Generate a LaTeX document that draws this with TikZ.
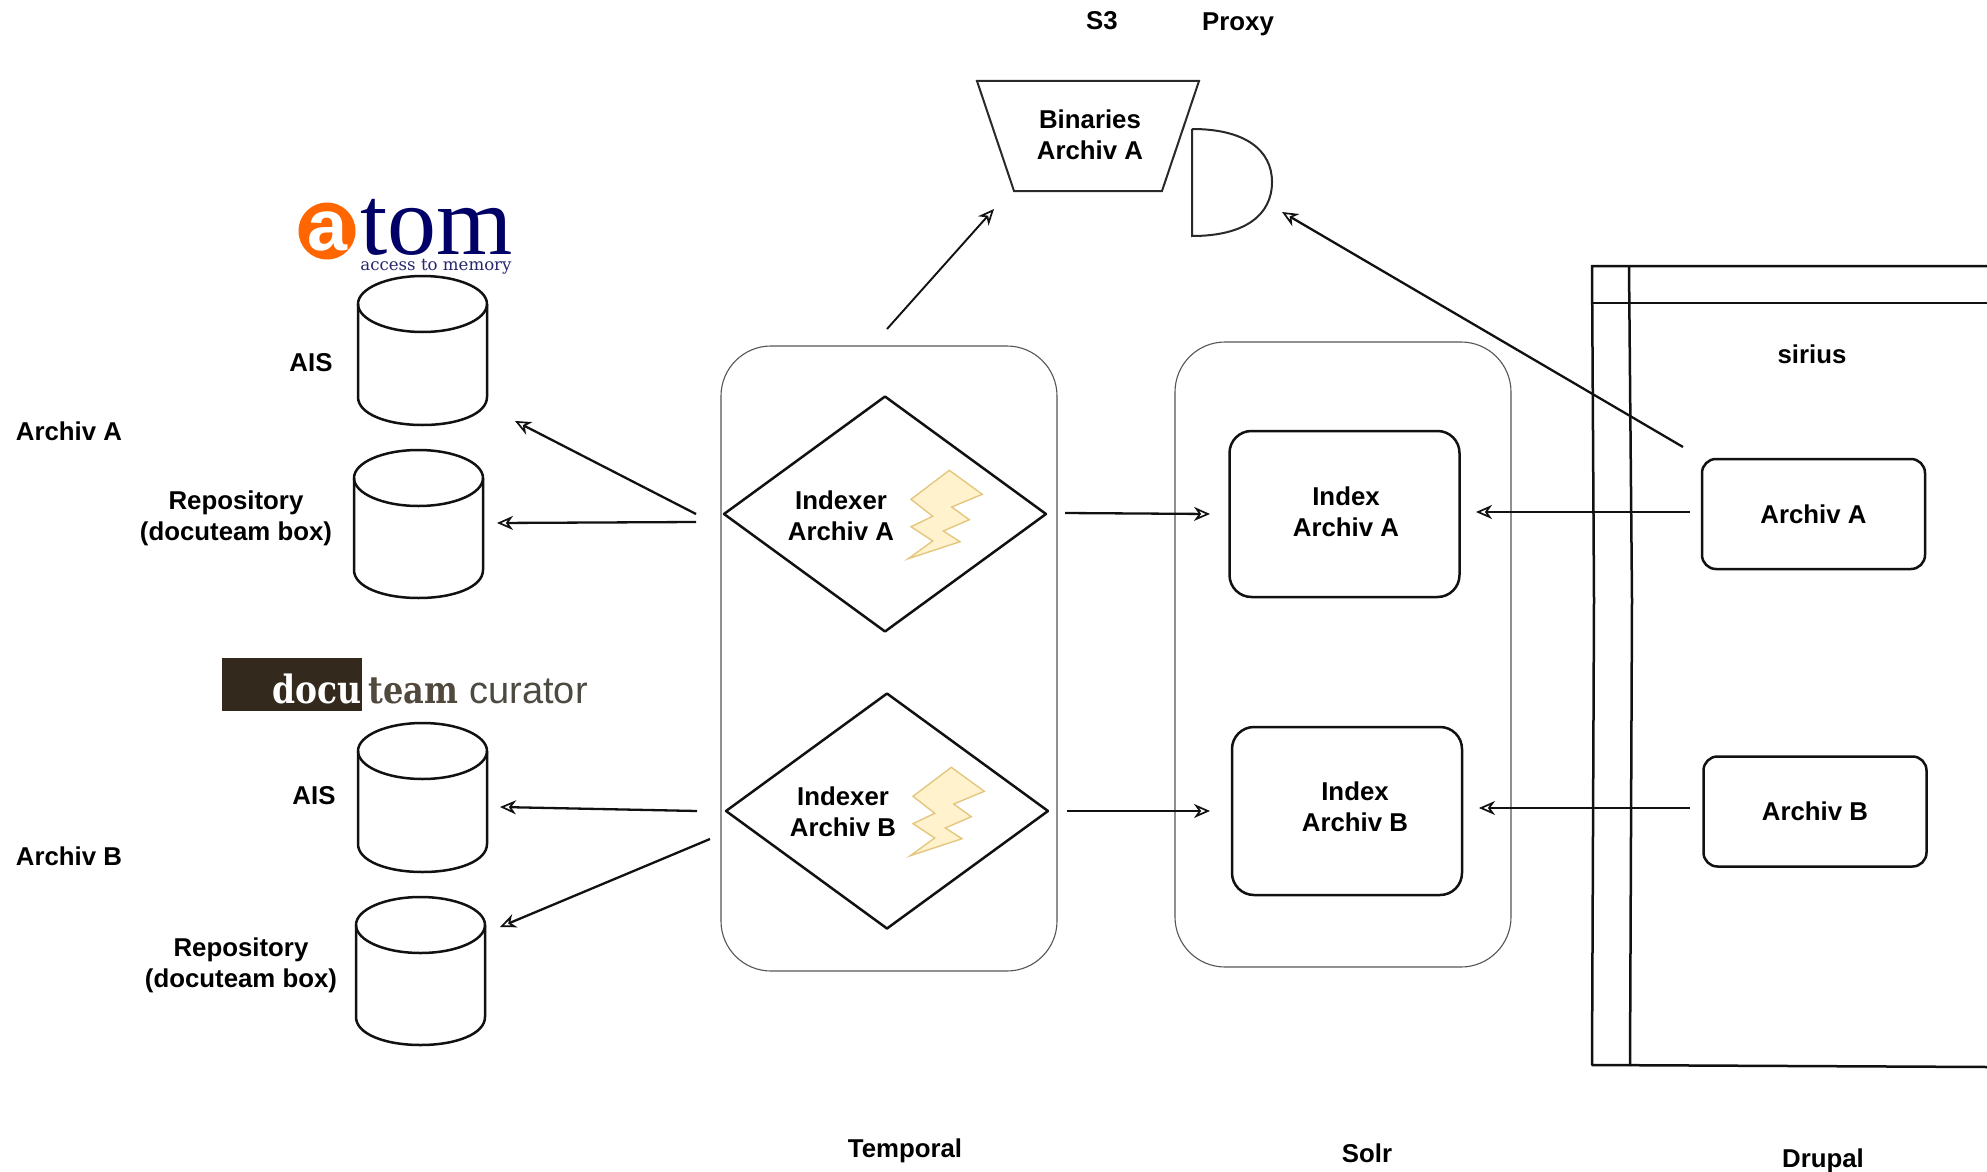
\documentclass[tikz,border=0pt]{standalone}
\usepackage{fontspec}
\usepackage{graphicx}
\setmainfont{Liberation Sans}
\newfontfamily\serifA{Liberation Serif}
\newfontfamily\slabA{DejaVu Serif}
\usetikzlibrary{arrows.meta,shapes.geometric}
\definecolor{ink}{HTML}{111111}
\definecolor{thin}{HTML}{555555}
\definecolor{boltfill}{HTML}{FFF2CC}
\definecolor{boltline}{HTML}{E3C77F}
\definecolor{atomorange}{HTML}{FF6600}
\definecolor{atomnavy}{HTML}{000066}
\definecolor{atomsub}{HTML}{26266E}
\definecolor{docubrown}{HTML}{33291C}
\definecolor{curgray}{HTML}{4D4A42}
\tikzset{
  lbl/.style={font=\fontsize{12.9}{15.5}\selectfont\bfseries,align=center,text=black,inner sep=0pt},
  sk/.style={draw=ink,line width=1.25pt,line join=round},
  flat/.style={draw=ink!90,line width=1pt,line join=miter},
  sec/.style={draw=thin,line width=0.55pt,rounded corners=25pt,inner sep=0pt},
  sbox/.style={sk,rounded corners=11pt,inner sep=0pt,align=center,font=\fontsize{12.9}{15.5}\selectfont\bfseries},
  dia/.style={shape=diamond,sk,inner sep=0pt,minimum width=161.5pt,minimum height=118pt,aspect=1.37},
  con/.style={draw=ink,line width=1.15pt,-{Stealth[length=8pt,width=7pt,inset=2.5pt,fill=white,line width=0.85pt]}},
  boltst/.style={draw=boltline,fill=boltfill,line width=0.7pt,line join=miter}
}
\newcommand{\cylA}[5]{% name, left, right, top, bottom
  \pgfmathsetmacro{\cxx}{(#2+#3)/2}
  \pgfmathsetmacro{\rxx}{(#3-#2)/2}
  \pgfmathsetmacro{\cyy}{#4+28}
  \pgfmathsetmacro{\low}{#5-28}
  \coordinate (#1) at (\cxx,{(#4+#5)/2});
  \draw[sk] (\cxx,\cyy) ellipse [x radius=\rxx,y radius=28];
  \draw[sk] (#2,\cyy) -- (#2,\low) .. controls (#2,{\low+17}) and ({\cxx-0.55*\rxx},#5) .. (\cxx,#5)
     .. controls ({\cxx+0.55*\rxx},#5) and (#3,{\low+17}) .. (#3,\low) -- (#3,\cyy);
}
\newcommand{\boltA}{%
  \path[boltst] (949.3,470.3) -- (982.3,494.3) -- (951.7,507) -- (969.3,519.7) -- (943.3,531) -- (960,541.7)
    -- (908.3,558.7) -- (932.7,541) -- (911,526.7) -- (932.7,516.3) -- (911,499.3) -- cycle;
}
\begin{document}
\begin{tikzpicture}[x=0.5pt,y=-0.5pt]
\useasboundingbox (0,0) rectangle (1987,1172);
\fill[white] (0,0) rectangle (1987,1172);

% sections
\node[sec,minimum width=168pt,minimum height=312.5pt] (temporal) at (889,658.5) {};
\node[sec,minimum width=168pt,minimum height=312.5pt] (solr) at (1343,654.5) {};

% drupal swimlane
\coordinate (drupal) at (1790,666);
\draw[sk] (1987,266) -- (1592,266) -- (1594,600) -- (1592,1065) -- (1987,1067);
\draw[sk] (1592,303) -- (1987,303);
\draw[sk] (1629,266) -- (1632,600) -- (1630,1066);

% S3 and proxy
\coordinate (s3) at (1088,136);
\draw[flat] (977,81) -- (1199,81) -- (1162,191) -- (1014,191) -- cycle;
\coordinate (proxy) at (1232,182);
\draw[flat] (1192,129) -- (1192,236) .. controls (1245,236) and (1272,215) .. (1272,182)
   .. controls (1272,150) and (1245,129) .. (1192,129);
\node[lbl] (binaries) at (1090,135) {Binaries\\Archiv A};
\node[lbl] (s3lbl) at (1102,21) {S3};
\node[lbl] (proxylbl) at (1238,24) {Proxy};

% indexers
\node[dia] (idxA) at (885,514) {};
\node[dia] (idxB) at (887,811) {};
\boltA
\begin{scope}[xshift=1pt,yshift=-148.5pt]\boltA\end{scope}
\node[lbl] (idxAt) at (841,516) {Indexer\\Archiv A};
\node[lbl] (idxBt) at (843,812) {Indexer\\Archiv B};

% indexes
\node[sbox,minimum width=115pt,minimum height=83pt] (indexA) at (1344.5,514) {};
\node[sbox,minimum width=115pt,minimum height=84pt] (indexB) at (1347,811) {};
\node[lbl] (indexAt) at (1346,512) {Index\\Archiv A};
\node[lbl] (indexBt) at (1355,807) {Index\\Archiv B};

% drupal boxes
\node[sbox,rounded corners=7pt,minimum width=111.5pt,minimum height=55pt] (arcA) at (1813.5,514) {Archiv A};
\node[sbox,rounded corners=7pt,minimum width=111.5pt,minimum height=55pt] (arcB) at (1815,811.5) {Archiv B};

% cylinders
\cylA{aisA}{358}{487}{276}{425}
\cylA{repoA}{354}{483}{450}{598}
\cylA{aisB}{358}{487}{723}{872}
\cylA{repoB}{356}{485}{897}{1045}

% connector ends
\coordinate (tS3) at (887,329);
\coordinate (hS3) at (994,209);
\coordinate (tProxy) at (1683,447);
\coordinate (hProxy) at (1282,212);
\coordinate (tAisA) at (696,514);
\coordinate (hAisA) at (515,421);
\coordinate (tRepoA) at (696,522);
\coordinate (hRepoA) at (497,523);
\coordinate (tAisB) at (697,811);
\coordinate (hAisB) at (500,807);
\coordinate (tRepoB) at (710,839);
\coordinate (hRepoB) at (500,927);
\coordinate (tIdxA) at (1065,513);
\coordinate (hIdxA) at (1210,514);
\coordinate (tIdxB) at (1067,811);
\coordinate (hIdxB) at (1210,811);
\coordinate (tArcA) at (1690,512);
\coordinate (hArcA) at (1476,512);
\coordinate (tArcB) at (1690,808);
\coordinate (hArcB) at (1479,808);

\draw[con,line width=0.95pt] (tS3) -- (hS3);
\draw[con] (tProxy) -- (hProxy);
\draw[con] (tAisA) -- (hAisA);
\draw[con] (tRepoA) -- (hRepoA);
\draw[con] (tAisB) -- (hAisB);
\draw[con] (tRepoB) -- (hRepoB);
\draw[con] (tIdxA) -- (hIdxA);
\draw[con] (tIdxB) -- (hIdxB);
\draw[con] (tArcA) -- (hArcA);
\draw[con] (tArcB) -- (hArcB);

% labels
\node[lbl] (lArchivA) at (69,431) {Archiv A};
\node[lbl] (lArchivB) at (69,856) {Archiv B};
\node[lbl] (lAisA) at (311,363) {AIS};
\node[lbl] (lAisB) at (314,796) {AIS};
\node[lbl] (lRepoA) at (236,518) {Repository\\(docuteam box)};
\node[lbl] (lRepoB) at (241,965) {Repository\\(docuteam box)};
\node[lbl] (lTemporal) at (905,1151) {Temporal};
\node[lbl] (lSolr) at (1367,1153) {Solr};
\node[lbl] (lDrupal) at (1823,1161) {Drupal};
\node[lbl] (lSirius) at (1812,354) {sirius};

% atom logo
\fill[atomorange] (327,231) circle [radius=28.5];
\node[inner sep=0pt,anchor=base,text=white,font=\bfseries\fontsize{36}{37}\selectfont] (atomA) at (328,250) {a};
\node[inner sep=0pt,anchor=base west,text=atomnavy,font=\serifA\fontsize{49}{49}\selectfont] (atomT) at (360,254) {tom};
\node[inner sep=0pt,anchor=base west,text=atomsub,font=\slabA\fontsize{8.3}{9}\selectfont] (atomS) at (360,270) {access to memory};

% docuteam logo
\fill[docubrown] (222,658) rectangle (362,711);
\node[inner sep=0pt,anchor=base west,text=white,font=\slabA\bfseries\fontsize{16.5}{17}\selectfont] (docu) at (272,703) {\scalebox{1}[1.18]{docu}};
\node[inner sep=0pt,anchor=base west,text=docubrown!85!white,font=\slabA\bfseries\fontsize{16}{17}\selectfont] (team) at (368,703) {\scalebox{1}[1.18]{team}};
\node[inner sep=0pt,anchor=base west,text=curgray,font=\fontsize{19}{20}\selectfont] (curator) at (469,703) {curator};
\end{tikzpicture}
\end{document}
